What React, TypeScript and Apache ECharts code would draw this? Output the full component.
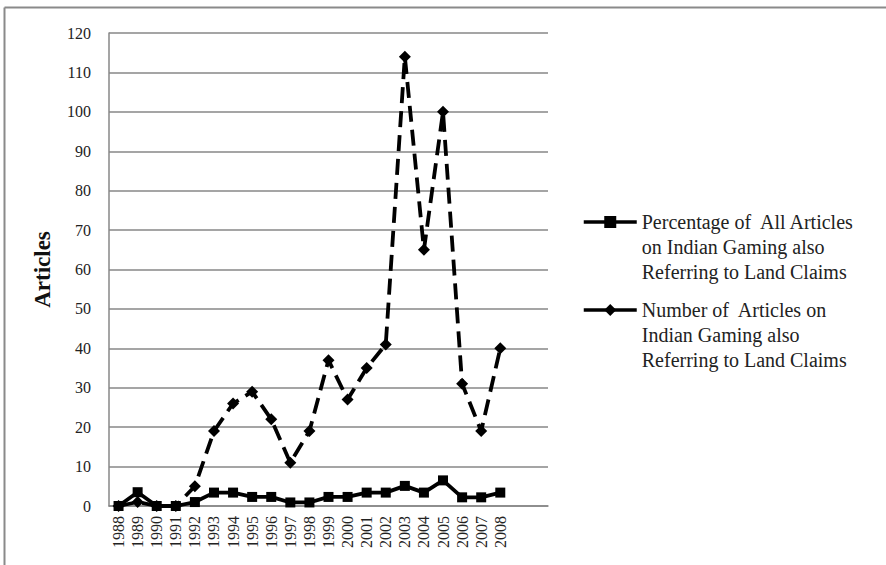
import React, { useEffect, useRef } from "react";
import * as echarts from "echarts";

const years = ["1988","1989","1990","1991","1992","1993","1994","1995","1996","1997","1998","1999","2000","2001","2002","2003","2004","2005","2006","2007","2008"];
const categories = [...years, "", ""];
const percentageValues = [0, 3.5, 0, 0, 1, 3.4, 3.4, 2.3, 2.3, 0.9, 0.9, 2.3, 2.3, 3.4, 3.4, 5.1, 3.4, 6.5, 2.2, 2.2, 3.4];
const numberValues = [0, 1, 0, 0, 5, 19, 26, 29, 22, 11, 19, 37, 27, 35, 41, 114, 65, 100, 31, 19, 40];
const seriesNames = [
  "Percentage of  All Articles\non Indian Gaming also\nReferring to Land Claims",
  "Number of  Articles on\nIndian Gaming also\nReferring to Land Claims",
];

const FONT = "'Liberation Serif', 'Times New Roman', serif";

export default function App() {
  const ref = useRef<HTMLDivElement>(null);
  useEffect(() => {
    if (!ref.current) return;
    const chart = echarts.init(ref.current, null, { renderer: "svg" });
    const legendText = {
      fontFamily: FONT,
      fontSize: 20,
      lineHeight: 25,
      color: "#222",
    };
    const legendCommon = {
      left: 582,
      padding: 0,
      itemWidth: 53,
      itemHeight: 15,
      itemGap: 0,
      textStyle: legendText,
      formatter: (name: string) => "\n\n" + name,
    };
    chart.setOption({
      animation: false,
      backgroundColor: "#fff",
      grid: { left: 109, top: 33, right: 338, bottom: 59, containLabel: false },
      xAxis: {
        type: "category",
        data: categories,
        boundaryGap: true,
        axisLine: { lineStyle: { color: "#878787", width: 1.5 } },
        axisTick: { show: false },
        axisLabel: {
          rotate: 90,
          interval: 0,
          margin: 10,
          fontFamily: FONT,
          fontSize: 16,
          color: "#222",
        },
        splitLine: { show: false },
      },
      yAxis: {
        type: "value",
        min: 0,
        max: 120,
        interval: 10,
        name: "Articles",
        nameLocation: "middle",
        nameGap: 55,
        nameTextStyle: { fontFamily: FONT, fontSize: 23, fontWeight: "bold", color: "#111" },
        axisLine: { show: true, lineStyle: { color: "#878787", width: 1.5 } },
        axisTick: { show: false },
        axisLabel: { margin: 18, fontFamily: FONT, fontSize: 16, color: "#222" },
        splitLine: { lineStyle: { color: "#878787", width: 1.5 } },
      },
      legend: [
        {
          ...legendCommon,
          data: [seriesNames[0]],
          top: 159.5,
          lineStyle: { type: "solid", width: 3.5 },
        },
        {
          ...legendCommon,
          data: [seriesNames[1]],
          top: 247.5,
          lineStyle: { type: "solid", width: 3.5 },
        },
      ],
      series: [
        {
          name: seriesNames[0],
          type: "line",
          data: percentageValues,
          symbol: "rect",
          symbolSize: 10,
          lineStyle: { color: "#000", width: 3.8 },
          itemStyle: { color: "#000" },
          z: 3,
        },
        {
          name: seriesNames[1],
          type: "line",
          data: numberValues,
          symbol: "diamond",
          symbolSize: [12, 12],
          lineStyle: { color: "#000", width: 3.8, type: [16, 8] },
          itemStyle: { color: "#000" },
          z: 2,
        },
      ],
      graphic: [
        { type: "line", shape: { x1: 4.5, y1: 7.5, x2: 886, y2: 7.5 }, style: { stroke: "#8a8a8a", lineWidth: 2 } },
        { type: "line", shape: { x1: 4.5, y1: 7.5, x2: 4.5, y2: 565 }, style: { stroke: "#8a8a8a", lineWidth: 2 } },
      ],
    });
    return () => chart.dispose();
  }, []);
  return (
    <div
      ref={ref}
      style={{ position: "fixed", left: 0, top: 0, width: 886, height: 565 }}
    />
  );
}
